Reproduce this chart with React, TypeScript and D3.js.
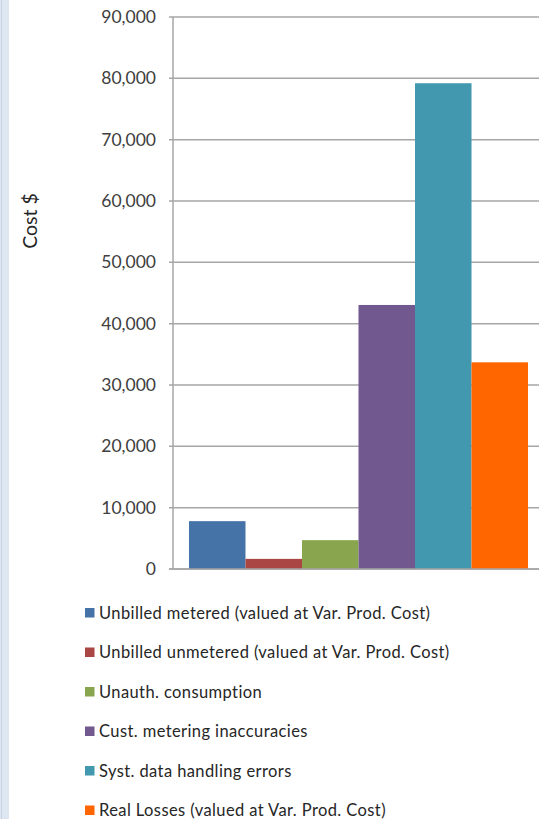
import React from "react";
import * as d3 from "d3";

const seriesNames = [
  "Unbilled metered (valued at Var. Prod. Cost)",
  "Unbilled unmetered (valued at Var. Prod. Cost)",
  "Unauth. consumption",
  "Cust. metering inaccuracies",
  "Syst. data handling errors",
  "Real Losses (valued at Var. Prod. Cost)",
];
const seriesValues = [7800, 1650, 4700, 43050, 79200, 33700];
const seriesColors = ["#4572a7", "#aa4643", "#89a54e", "#71588f", "#4198af", "#ff6600"];
const yTicks = [0, 10000, 20000, 30000, 40000, 50000, 60000, 70000, 80000, 90000];

const W = 539;
const H = 819;
const FONT = "Lato, 'Open Sans', sans-serif";

export default function App() {
  const plotLeft = 173;
  const plotRight = 544;
  const y = d3.scaleLinear().domain([0, 90000]).range([569, 17]);
  const x = d3
    .scaleBand<string>()
    .domain(seriesNames)
    .range([plotLeft, plotRight])
    .paddingInner(0)
    .paddingOuter(0.283);
  const fmt = d3.format(",");
  const legendY = d3.scaleLinear().domain([0, 1]).range([613, 652.5]);

  return (
    <div style={{ position: "fixed", left: 0, top: 0, width: W, height: H, background: "#fff" }}>
      <svg width={W} height={H} style={{ display: "block" }}>
        <rect x={0} y={0} width={W} height={H} fill="#fff" />
        {/* side panel strip */}
        <rect x={0} y={0} width={9} height={H} fill="#dde7f2" />
        <rect x={1} y={0} width={1} height={H} fill="#c6d4e6" />

        {/* gridlines and ticks */}
        {yTicks.map((t) => (
          <g key={t}>
            <line x1={169} x2={W} y1={y(t)} y2={y(t)} stroke="#a6a6a6" strokeWidth={1.5} />
            <text
              x={156}
              y={y(t)}
              dy="0.35em"
              textAnchor="end"
              fontFamily={FONT}
              fontSize={17.5}
              fill="#404040"
            >
              {fmt(t)}
            </text>
          </g>
        ))}
        <line x1={plotLeft} x2={plotLeft} y1={y(90000)} y2={y(0)} stroke="#a6a6a6" strokeWidth={1.5} />

        {/* bars */}
        {seriesNames.map((s, i) => (
          <rect
            key={s}
            x={x(s)!}
            y={y(seriesValues[i])}
            width={x.bandwidth()}
            height={y(0) - y(seriesValues[i])}
            fill={seriesColors[i]}
          />
        ))}
        <line x1={169} x2={W} y1={y(0)} y2={y(0)} stroke="#a6a6a6" strokeWidth={1.5} />

        {/* axis title */}
        <text
          transform={`translate(37,221) rotate(-90)`}
          textAnchor="middle"
          fontFamily={FONT}
          fontSize={19.5}
          fill="#262626"
        >
          Cost $
        </text>

        {/* legend */}
        {seriesNames.map((s, i) => (
          <g key={s} transform={`translate(0,${legendY(i)})`}>
            <rect x={85} y={-5} width={9.5} height={9.5} fill={seriesColors[i]} />
            <text
              x={99}
              y={0}
              dy="0.36em"
              fontFamily={FONT}
              fontSize={16.5}
              letterSpacing={0.4}
              fill="#262626"
            >
              {s}
            </text>
          </g>
        ))}
      </svg>
    </div>
  );
}
